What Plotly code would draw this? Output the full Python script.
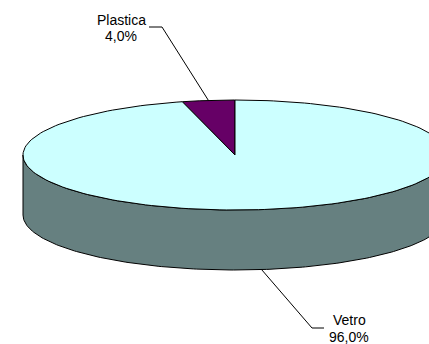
import numpy as np
import plotly.graph_objects as go

# ---- data ----
labels = ["Plastica", "Vetro"]
values = [4.0, 96.0]
top_colors = ["#660066", "#CCFFFF"]
side_color = "#668080"

# ---- geometry (layout) ----
W, H = 429, 344
cx, cy = 235, 155
rx, ry = 212, 55
depth = 60


def pt(theta_deg, dy=0.0):
    t = np.radians(theta_deg)
    return cx - rx * np.sin(t), cy - ry * np.cos(t) + dy


def arc(a0, a1, dy=0.0, n=200):
    th = np.linspace(a0, a1, n)
    xs, ys = pt(th, dy)
    return list(xs), list(ys)


fig = go.Figure()

# side wall (front half, visible)
xs_top, ys_top = arc(90, 270)
xs_bot, ys_bot = arc(270, 90, depth)
fig.add_trace(go.Scatter(
    x=xs_top + xs_bot + [xs_top[0]],
    y=ys_top + ys_bot + [ys_top[0]],
    mode="lines", fill="toself", fillcolor=side_color,
    line=dict(color="black", width=1), hoverinfo="skip", showlegend=False))

# top slices
total = sum(values)
start = 0.0
mids = []
for lab, val, col in zip(labels, values, top_colors):
    span = 360.0 * val / total
    ax, ay = arc(start, start + span)
    fig.add_trace(go.Scatter(
        x=[cx] + ax + [cx], y=[cy] + ay + [cy],
        mode="lines", fill="toself", fillcolor=col,
        line=dict(color="black", width=1), hoverinfo="skip", showlegend=False))
    mids.append(start + span / 2)
    start += span

# labels with leader lines: (text x, name y, pct y, leader y, bend x, end x)
label_pos = {"Plastica": (121, 20, 36, 27, 162, 149),
             "Vetro": (349, 320, 337, 328, 312, 324)}
font = dict(family="Liberation Sans, Arial", size=14, color="black")
for lab, val, mid in zip(labels, values, mids):
    tx, ny, py, ly, bx, ex = label_pos[lab]
    front = 90 < (mid % 360) < 270
    sx, sy = pt(mid, depth if front else 0)
    fig.add_trace(go.Scatter(
        x=[float(sx), bx, ex], y=[float(sy), ly, ly], mode="lines",
        line=dict(color="black", width=1), hoverinfo="skip", showlegend=False))
    pct = f"{val:.1f}%".replace(".", ",")
    fig.add_annotation(x=tx, y=ny, text=lab, showarrow=False,
                       xanchor="center", yanchor="middle", font=font)
    fig.add_annotation(x=tx, y=py, text=pct, showarrow=False,
                       xanchor="center", yanchor="middle", font=font)

fig.update_layout(
    width=W, height=H, margin=dict(l=0, r=0, t=0, b=0),
    paper_bgcolor="white", plot_bgcolor="white",
    xaxis=dict(range=[0, W], visible=False, fixedrange=True),
    yaxis=dict(range=[H, 0], visible=False, fixedrange=True),
    showlegend=False,
)
fig.write_html(
    "out.html",
    config={"displayModeBar": False},
    post_script="document.body.style.margin='0';document.body.style.overflow='hidden';",
)
